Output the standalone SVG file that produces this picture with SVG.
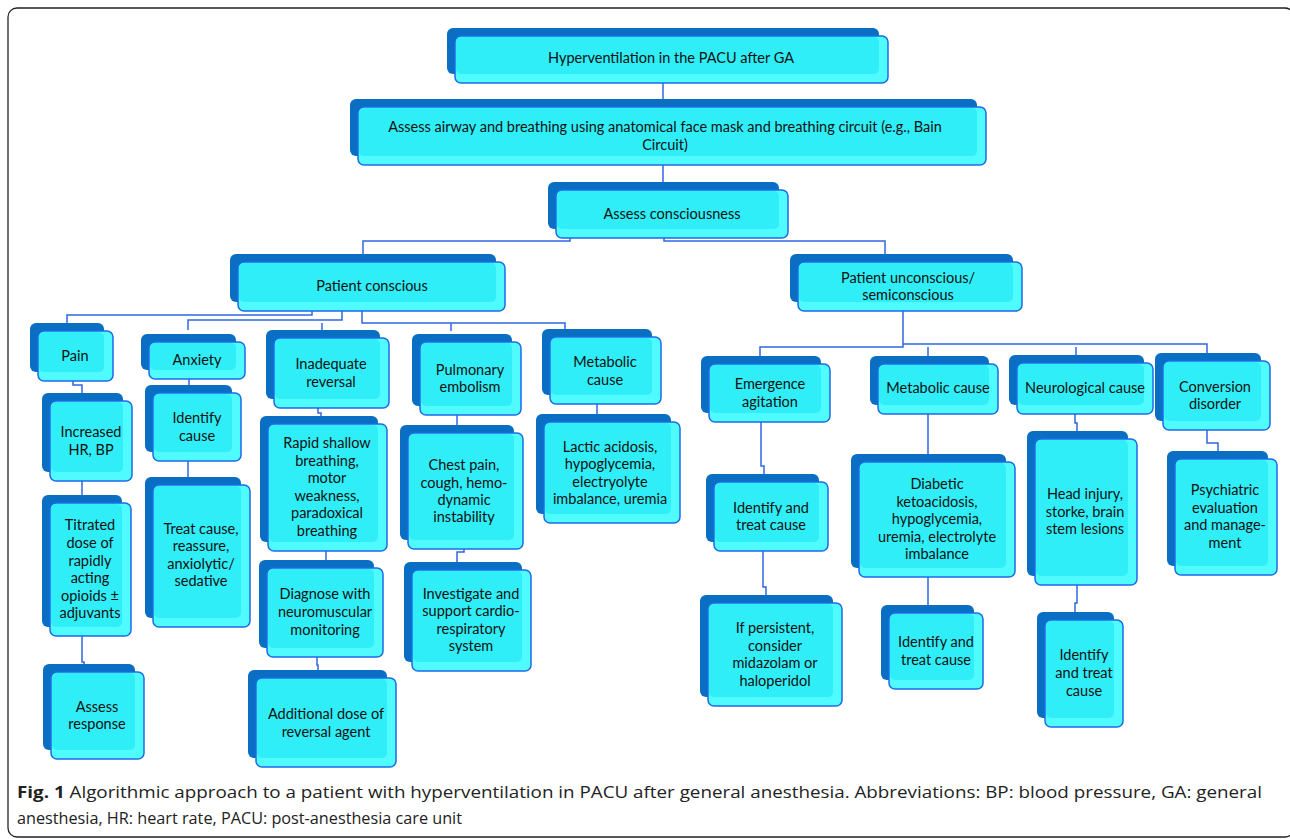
<svg xmlns="http://www.w3.org/2000/svg" width="1290" height="839" viewBox="0 0 1290 839">
<style>
.sh{fill:#0A6FC2}
.fr{fill:#50FBFF;stroke:#1C6BE8;stroke-width:1.5}
.in{fill:#30EEF8}
.t{font-family:Lato,"Liberation Sans",sans-serif;font-size:14.5px;fill:#111;text-anchor:middle}
.c{fill:none;stroke:#2F67DE;stroke-width:1.5}
.cap{font-family:"Open Sans","Liberation Sans",sans-serif;font-size:16px;fill:#222}
</style>
<rect x="8" y="8" width="1286" height="829" rx="9" fill="#fff" stroke="#222" stroke-width="1.3"/>
<g id="connectors" class="c">
<path d="M663,83 V99"/>
<path d="M663,165 V182"/>
<path d="M570,230 V241 H363 V254"/>
<path d="M664,238 V241 H885 V254"/>
<path d="M312,311 V315 H67 V323"/>
<path d="M342,311 V320 H188 V330"/>
<path d="M362,311 V323 H565 V330"/>
<path d="M322,323 V330"/>
<path d="M451,323 V331"/>
<path d="M73,381 V385 H82 V393"/>
<path d="M82,481 V495"/>
<path d="M82,636 V662 H84 V664"/>
<path d="M189,379 V386"/>
<path d="M188,461 V477"/>
<path d="M318,408 V413 H321 V416"/>
<path d="M326,551 V560"/>
<path d="M317,657 V665 H318 V671"/>
<path d="M457,415 V426"/>
<path d="M464,549 V552 H457 V563"/>
<path d="M597,404 V414"/>
<path d="M903,311 V347 H760 V357"/>
<path d="M903,344 H1207 V354"/>
<path d="M928,347 V357"/>
<path d="M1076,347 V356"/>
<path d="M761,422 V466 H764 V474"/>
<path d="M763,551 V587 H766 V596"/>
<path d="M928,414 V454"/>
<path d="M928,577 V606"/>
<path d="M1075,414 V423 H1077 V432"/>
<path d="M1077,585 V603 H1075 V612"/>
<path d="M1207,430 V443 H1218 V452"/>
</g>
<g id="n-hyper"><rect class="sh" x="447" y="28" width="432" height="46" rx="6"/><rect class="fr" x="455" y="36" width="433" height="47" rx="6"/><rect class="in" x="456" y="37" width="423" height="37" rx="5"/><text class="t" x="671" y="63">Hyperventilation in the PACU after GA</text></g>
<g id="n-airway"><rect class="sh" x="350" y="99" width="627" height="57" rx="6"/><rect class="fr" x="358" y="107" width="628" height="58" rx="6"/><rect class="in" x="359" y="108" width="618" height="48" rx="5"/><text class="t" x="665" y="132">Assess airway and breathing using anatomical face mask and breathing circuit (e.g., Bain</text><text class="t" x="665" y="150">Circuit)</text></g>
<g id="n-conc"><rect class="sh" x="548" y="182" width="231" height="47" rx="6"/><rect class="fr" x="556" y="190" width="232" height="48" rx="6"/><rect class="in" x="557" y="191" width="222" height="38" rx="5"/><text class="t" x="672" y="219">Assess consciousness</text></g>
<g id="n-conscious"><rect class="sh" x="230" y="254" width="266" height="48" rx="6"/><rect class="fr" x="238" y="262" width="267" height="49" rx="6"/><rect class="in" x="239" y="263" width="257" height="39" rx="5"/><text class="t" x="372" y="291">Patient conscious</text></g>
<g id="n-unconscious"><rect class="sh" x="790" y="254" width="223" height="48" rx="6"/><rect class="fr" x="798" y="262" width="224" height="49" rx="6"/><rect class="in" x="799" y="263" width="214" height="39" rx="5"/><text class="t" x="908" y="283">Patient unconscious/</text><text class="t" x="908" y="300">semiconscious</text></g>
<g id="n-pain"><rect class="sh" x="30" y="323" width="74" height="49" rx="6"/><rect class="fr" x="38" y="331" width="75" height="50" rx="6"/><rect class="in" x="39" y="332" width="65" height="40" rx="5"/><text class="t" x="75" y="361">Pain</text></g>
<g id="n-hr"><rect class="sh" x="42" y="393" width="81" height="79" rx="6"/><rect class="fr" x="50" y="401" width="82" height="80" rx="6"/><rect class="in" x="51" y="402" width="72" height="70" rx="5"/><text class="t" x="91" y="437">Increased</text><text class="t" x="91" y="455">HR, BP</text></g>
<g id="n-titrated"><rect class="sh" x="42" y="495" width="80" height="132" rx="6"/><rect class="fr" x="50" y="503" width="81" height="133" rx="6"/><rect class="in" x="51" y="504" width="71" height="123" rx="5"/><text class="t" x="90" y="530">Titrated</text><text class="t" x="90" y="548">dose of</text><text class="t" x="90" y="566">rapidly</text><text class="t" x="90" y="583">acting</text><text class="t" x="90" y="601">opioids ±</text><text class="t" x="90" y="618">adjuvants</text></g>
<g id="n-response"><rect class="sh" x="43" y="664" width="92" height="86" rx="6"/><rect class="fr" x="51" y="672" width="93" height="87" rx="6"/><rect class="in" x="52" y="673" width="83" height="77" rx="5"/><text class="t" x="97" y="712">Assess</text><text class="t" x="97" y="729">response</text></g>
<g id="n-anxiety"><rect class="sh" x="141" y="334" width="95" height="36" rx="6"/><rect class="fr" x="149" y="342" width="96" height="37" rx="6"/><rect class="in" x="150" y="343" width="86" height="27" rx="5"/><text class="t" x="197" y="365">Anxiety</text></g>
<g id="n-idcause"><rect class="sh" x="145" y="385" width="87" height="67" rx="6"/><rect class="fr" x="153" y="393" width="88" height="68" rx="6"/><rect class="in" x="154" y="394" width="78" height="58" rx="5"/><text class="t" x="197" y="423">Identify</text><text class="t" x="197" y="441">cause</text></g>
<g id="n-treat"><rect class="sh" x="145" y="477" width="96" height="141" rx="6"/><rect class="fr" x="153" y="485" width="97" height="142" rx="6"/><rect class="in" x="154" y="486" width="87" height="132" rx="5"/><text class="t" x="201" y="534">Treat cause,</text><text class="t" x="201" y="551">reassure,</text><text class="t" x="201" y="569">anxiolytic/</text><text class="t" x="201" y="586">sedative</text></g>
<g id="n-inadequate"><rect class="sh" x="266" y="330" width="114" height="69" rx="6"/><rect class="fr" x="274" y="338" width="115" height="70" rx="6"/><rect class="in" x="275" y="339" width="105" height="60" rx="5"/><text class="t" x="331" y="369">Inadequate</text><text class="t" x="331" y="387">reversal</text></g>
<g id="n-rapid"><rect class="sh" x="260" y="416" width="118" height="126" rx="6"/><rect class="fr" x="268" y="424" width="119" height="127" rx="6"/><rect class="in" x="269" y="425" width="109" height="117" rx="5"/><text class="t" x="327" y="448">Rapid shallow</text><text class="t" x="327" y="466">breathing,</text><text class="t" x="327" y="483">motor</text><text class="t" x="327" y="501">weakness,</text><text class="t" x="327" y="518">paradoxical</text><text class="t" x="327" y="536">breathing</text></g>
<g id="n-diagnose"><rect class="sh" x="259" y="560" width="115" height="88" rx="6"/><rect class="fr" x="267" y="568" width="116" height="89" rx="6"/><rect class="in" x="268" y="569" width="106" height="79" rx="5"/><text class="t" x="325" y="599">Diagnose with</text><text class="t" x="325" y="617">neuromuscular</text><text class="t" x="325" y="635">monitoring</text></g>
<g id="n-additional"><rect class="sh" x="248" y="670" width="139" height="88" rx="6"/><rect class="fr" x="256" y="678" width="140" height="89" rx="6"/><rect class="in" x="257" y="679" width="130" height="79" rx="5"/><text class="t" x="326" y="719">Additional dose of</text><text class="t" x="326" y="737">reversal agent</text></g>
<g id="n-pe"><rect class="sh" x="412" y="334" width="100" height="72" rx="6"/><rect class="fr" x="420" y="342" width="101" height="73" rx="6"/><rect class="in" x="421" y="343" width="91" height="63" rx="5"/><text class="t" x="470" y="375">Pulmonary</text><text class="t" x="470" y="392">embolism</text></g>
<g id="n-chest"><rect class="sh" x="400" y="425" width="114" height="115" rx="6"/><rect class="fr" x="408" y="433" width="115" height="116" rx="6"/><rect class="in" x="409" y="434" width="105" height="106" rx="5"/><text class="t" x="464" y="470">Chest pain,</text><text class="t" x="464" y="488">cough, hemo-</text><text class="t" x="464" y="505">dynamic</text><text class="t" x="464" y="522">instability</text></g>
<g id="n-investigate"><rect class="sh" x="404" y="562" width="118" height="100" rx="6"/><rect class="fr" x="412" y="570" width="119" height="101" rx="6"/><rect class="in" x="413" y="571" width="109" height="91" rx="5"/><text class="t" x="471" y="599">Investigate and</text><text class="t" x="471" y="616">support cardio-</text><text class="t" x="471" y="634">respiratory</text><text class="t" x="471" y="651">system</text></g>
<g id="n-metab1"><rect class="sh" x="542" y="329" width="110" height="66" rx="6"/><rect class="fr" x="550" y="337" width="111" height="67" rx="6"/><rect class="in" x="551" y="338" width="101" height="57" rx="5"/><text class="t" x="605" y="367">Metabolic</text><text class="t" x="605" y="385">cause</text></g>
<g id="n-lactic"><rect class="sh" x="536" y="414" width="135" height="100" rx="6"/><rect class="fr" x="544" y="422" width="136" height="101" rx="6"/><rect class="in" x="545" y="423" width="126" height="91" rx="5"/><text class="t" x="610" y="452">Lactic acidosis,</text><text class="t" x="610" y="469">hypoglycemia,</text><text class="t" x="610" y="487">electryolyte</text><text class="t" x="610" y="504">imbalance, uremia</text></g>
<g id="n-emergence"><rect class="sh" x="701" y="356" width="120" height="57" rx="6"/><rect class="fr" x="709" y="364" width="121" height="58" rx="6"/><rect class="in" x="710" y="365" width="111" height="48" rx="5"/><text class="t" x="770" y="389">Emergence</text><text class="t" x="770" y="407">agitation</text></g>
<g id="n-idtreat1"><rect class="sh" x="706" y="474" width="113" height="68" rx="6"/><rect class="fr" x="714" y="482" width="114" height="69" rx="6"/><rect class="in" x="715" y="483" width="104" height="59" rx="5"/><text class="t" x="771" y="513">Identify and</text><text class="t" x="771" y="530">treat cause</text></g>
<g id="n-persistent"><rect class="sh" x="700" y="595" width="133" height="102" rx="6"/><rect class="fr" x="708" y="603" width="134" height="103" rx="6"/><rect class="in" x="709" y="604" width="124" height="93" rx="5"/><text class="t" x="775" y="633">If persistent,</text><text class="t" x="775" y="651">consider</text><text class="t" x="775" y="668">midazolam or</text><text class="t" x="775" y="686">haloperidol</text></g>
<g id="n-metab2"><rect class="sh" x="870" y="356" width="119" height="49" rx="6"/><rect class="fr" x="878" y="364" width="120" height="50" rx="6"/><rect class="in" x="879" y="365" width="110" height="40" rx="5"/><text class="t" x="938" y="393">Metabolic cause</text></g>
<g id="n-diabetic"><rect class="sh" x="851" y="454" width="155" height="114" rx="6"/><rect class="fr" x="859" y="462" width="156" height="115" rx="6"/><rect class="in" x="860" y="463" width="146" height="105" rx="5"/><text class="t" x="937" y="489">Diabetic</text><text class="t" x="937" y="507">ketoacidosis,</text><text class="t" x="937" y="524">hypoglycemia,</text><text class="t" x="937" y="542">uremia, electrolyte</text><text class="t" x="937" y="559">imbalance</text></g>
<g id="n-idtreat2"><rect class="sh" x="881" y="605" width="93" height="75" rx="6"/><rect class="fr" x="889" y="613" width="94" height="76" rx="6"/><rect class="in" x="890" y="614" width="84" height="66" rx="5"/><text class="t" x="936" y="647">Identify and</text><text class="t" x="936" y="665">treat cause</text></g>
<g id="n-neuro"><rect class="sh" x="1009" y="355" width="135" height="50" rx="6"/><rect class="fr" x="1017" y="363" width="136" height="51" rx="6"/><rect class="in" x="1018" y="364" width="126" height="41" rx="5"/><text class="t" x="1085" y="393">Neurological cause</text></g>
<g id="n-head"><rect class="sh" x="1027" y="431" width="101" height="145" rx="6"/><rect class="fr" x="1035" y="439" width="102" height="146" rx="6"/><rect class="in" x="1036" y="440" width="92" height="136" rx="5"/><text class="t" x="1085" y="499">Head injury,</text><text class="t" x="1085" y="517">storke, brain</text><text class="t" x="1085" y="534">stem lesions</text></g>
<g id="n-idtreat3"><rect class="sh" x="1037" y="612" width="77" height="106" rx="6"/><rect class="fr" x="1045" y="620" width="78" height="107" rx="6"/><rect class="in" x="1046" y="621" width="68" height="97" rx="5"/><text class="t" x="1084" y="660">Identify</text><text class="t" x="1084" y="678">and treat</text><text class="t" x="1084" y="696">cause</text></g>
<g id="n-conversion"><rect class="sh" x="1155" y="353" width="106" height="68" rx="6"/><rect class="fr" x="1163" y="361" width="107" height="69" rx="6"/><rect class="in" x="1164" y="362" width="97" height="59" rx="5"/><text class="t" x="1215" y="392">Conversion</text><text class="t" x="1215" y="409">disorder</text></g>
<g id="n-psych"><rect class="sh" x="1167" y="451" width="101" height="115" rx="6"/><rect class="fr" x="1175" y="459" width="102" height="116" rx="6"/><rect class="in" x="1176" y="460" width="92" height="106" rx="5"/><text class="t" x="1225" y="495">Psychiatric</text><text class="t" x="1225" y="513">evaluation</text><text class="t" x="1225" y="530">and manage-</text><text class="t" x="1225" y="548">ment</text></g>
<g id="caption">
<text class="cap" x="17" y="798" textLength="1245" lengthAdjust="spacingAndGlyphs"><tspan font-weight="bold">Fig. 1</tspan> Algorithmic approach to a patient with hyperventilation in PACU after general anesthesia. Abbreviations: BP: blood pressure, GA: general</text>
<text class="cap" x="17" y="824" textLength="445" lengthAdjust="spacingAndGlyphs">anesthesia, HR: heart rate, PACU: post-anesthesia care unit</text>
</g>
</svg>
